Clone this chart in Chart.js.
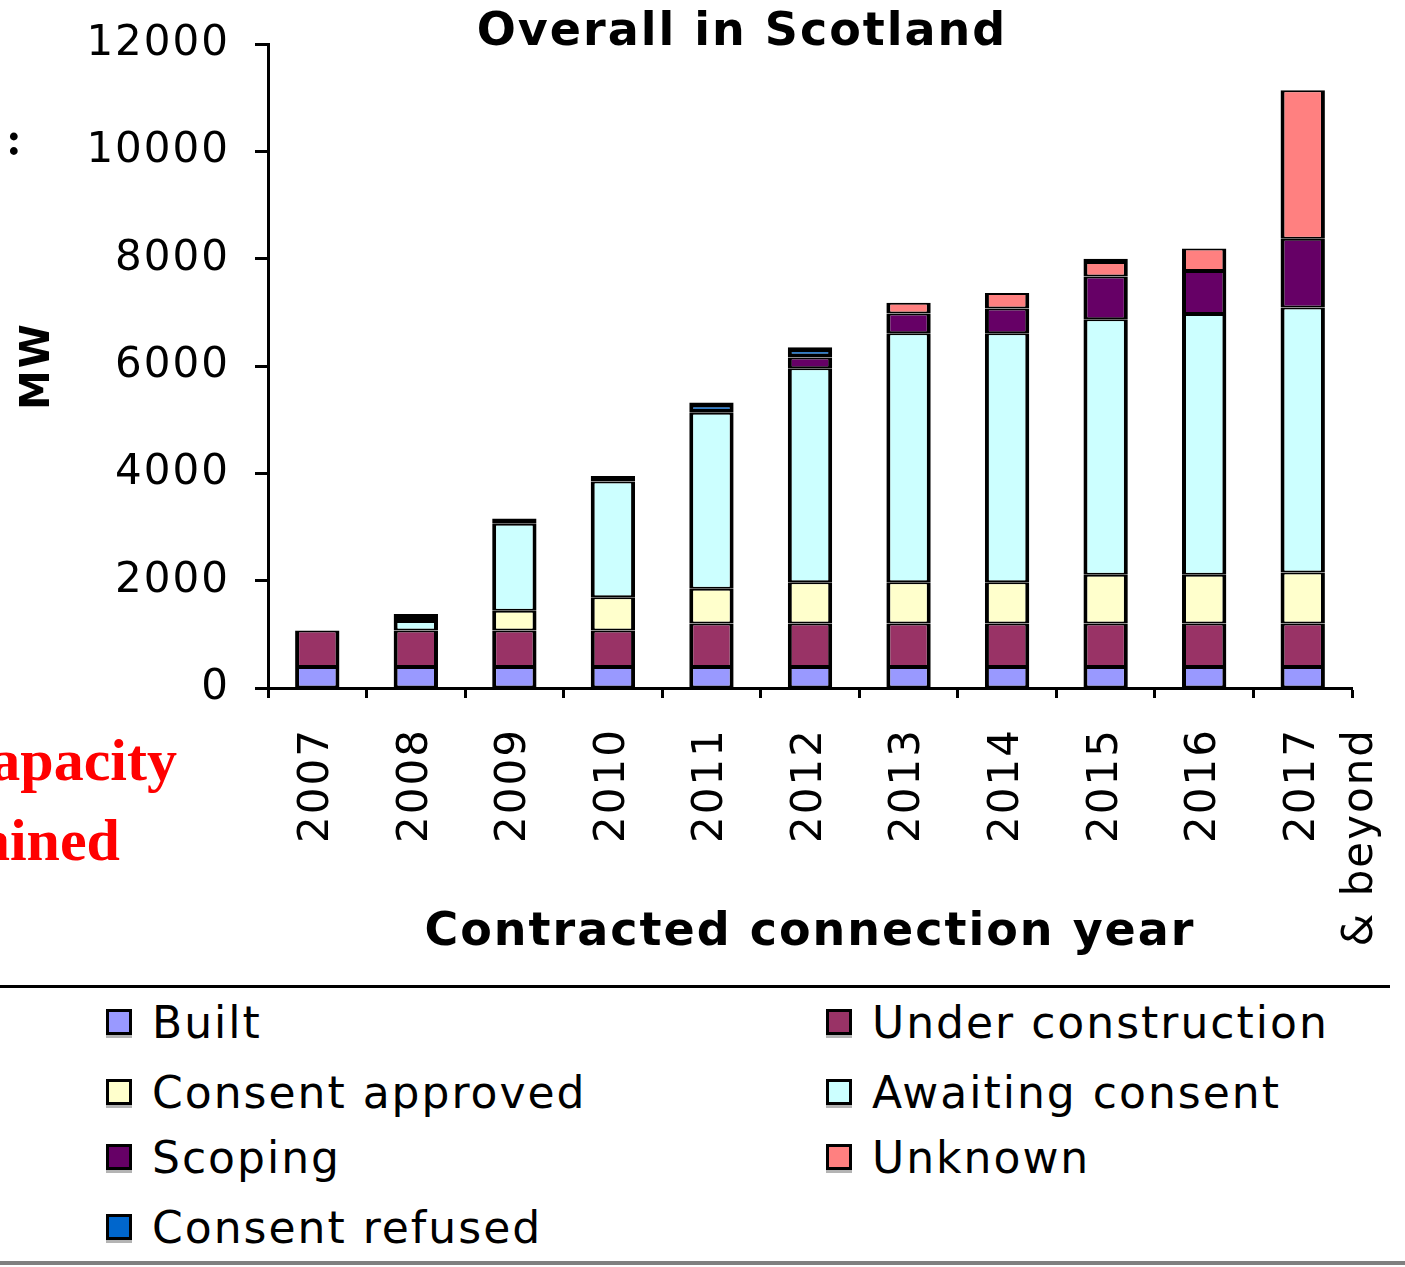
<!DOCTYPE html>
<html>
<head>
<meta charset="utf-8">
<script src="https://cdn.jsdelivr.net/npm/chart.js@4.4.1/dist/chart.umd.min.js"></script>
<style>
  html, body { margin: 0; padding: 0; background: #fff; }
  body { width: 1405px; height: 1267px; position: relative; overflow: hidden; font-family: 'DejaVu Sans', sans-serif; }
  #wrap { position: absolute; left: 0; top: 0; width: 1405px; height: 980px; }
  .red { position: absolute; white-space: nowrap; text-align: right; color: #ff0000;
         font: bold 60px 'Liberation Serif', serif; line-height: 60px; }
  .rule { position: absolute; left: 0; }
  .item { position: absolute; height: 50px; display: flex; align-items: center; white-space: nowrap;
          font-size: 44px; letter-spacing: 2px; color: #000; }
  .box { width: 26px; height: 26px; border: 3px solid #000; box-sizing: border-box; box-shadow: 0 3px 0 #b4b4b4; margin-right: 20px; }
</style>
</head>
<body>
<div id="wrap"><canvas id="myChart"></canvas></div>

<!-- bits of the slide text that are cut off on the left -->
<div style="position:absolute;left:6px;top:111px;font:bold 48px 'Liberation Serif',serif;">:</div>
<div class="red" style="top:730px;right:1228px">apacity</div>
<div class="red" style="top:810px;right:1285px">ained</div>

<div class="rule" style="top:985px;width:1390px;height:3px;background:#000"></div>
<div class="rule" style="top:1261px;width:1405px;height:4px;background:#808080"></div>
<div id="legend"></div>

<script>
// Danh mục năm (trục X)
var years = ['2007', '2008', '2009', '2010', '2011', '2012', '2013', '2014', '2015', '2016', ['2017', '& beyond']];

// Giá trị MW cho từng trạng thái
var built             = [390, 390, 390, 390, 390, 390, 390, 390, 390, 390, 390];
var underConstruction = [680, 680, 680, 680, 810, 810, 810, 810, 810, 810, 810];
var consentApproved   = [0, 0, 370, 620, 650, 770, 770, 770, 910, 910, 950];
var awaitingConsent   = [0, 180, 1620, 2160, 3280, 3990, 4640, 4640, 4760, 4860, 4940];
var scoping           = [0, 0, 0, 0, 0, 200, 370, 460, 800, 800, 1280];
var unknown           = [0, 0, 0, 0, 0, 0, 200, 290, 270, 420, 2770];
var consentRefused    = [0, 130, 100, 100, 190, 190, 0, 0, 60, 0, 0];

var yTicks = [0, 2000, 4000, 6000, 8000, 10000, 12000];

var seriesNames  = ['Built', 'Under construction', 'Consent approved', 'Awaiting consent', 'Scoping', 'Unknown', 'Consent refused'];
var seriesData   = [built, underConstruction, consentApproved, awaitingConsent, scoping, unknown, consentRefused];
var seriesColors = ['#9999ff', '#993366', '#ffffcc', '#ccffff', '#660066', '#ff8080', '#0066cc'];

Chart.defaults.font.family = "'DejaVu Sans', sans-serif";
Chart.defaults.color = '#000';

var datasets = seriesNames.map(function (name, i) {
    return {
        label: name,
        data: seriesData[i],
        backgroundColor: seriesColors[i],
        borderColor: '#000',
        // refused segments are so thin that the border nearly hides them, like in the picture
        borderWidth: name === 'Consent refused' ? { left: 4, right: 4, top: 5, bottom: 4 } : { left: 4, right: 4, top: 2, bottom: 2 },
        borderSkipped: false,
        barPercentage: 0.9,
        categoryPercentage: 0.5
    };
});

// chữ giãn ra một chút giống hình gốc
var spacing = {
    id: 'spacing',
    beforeUpdate: function (chart) { chart.ctx.letterSpacing = '2px'; },
    beforeDraw: function (chart) { chart.ctx.letterSpacing = '2px'; },
    afterDraw: function (chart) {
        var ctx = chart.ctx;
        ctx.save();
        ctx.font = "bold 46px 'DejaVu Sans', sans-serif";
        ctx.fillStyle = '#000';
        ctx.textAlign = 'center';
        ctx.textBaseline = 'middle';
        ctx.fillText('Overall in Scotland', 742, 33);
        ctx.restore();
    }
};

var ctx = document.getElementById('myChart').getContext('2d');
var chart = new Chart(ctx, {
    type: 'bar',
    data: { labels: years, datasets: datasets },
    options: {
        responsive: true,
        maintainAspectRatio: false,
        animation: false,
        layout: { padding: { top: 44, right: 53, left: 0, bottom: 0 } },
        scales: {
            x: {
                stacked: true,
                grid: { drawOnChartArea: false, offset: true, tickLength: 10, tickColor: '#000', tickWidth: 3 },
                border: { color: '#000', width: 3 },
                ticks: { minRotation: 90, maxRotation: 90, autoSkip: false, padding: 30,
                         font: { size: 42, lineHeight: 1.38 } },
                title: { display: true, text: 'Contracted connection year',
                         font: { size: 46, weight: 'bold' }, padding: { top: 0, bottom: 19 } },
                afterFit: function (s) { s.height = 292; s.paddingLeft = 0; s.paddingRight = 0; }
            },
            y: {
                stacked: true,
                min: 0,
                max: 12000,
                afterBuildTicks: function (s) { s.ticks = yTicks.map(function (v) { return { value: v }; }); },
                grid: { drawOnChartArea: false, tickLength: 13, tickColor: '#000', tickWidth: 3 },
                border: { color: '#000', width: 3 },
                ticks: { padding: 25, font: { size: 42 }, callback: function (v) { return String(v); } },
                title: { display: true, text: 'MW', font: { size: 40, weight: 'bold' }, padding: { top: 15, bottom: 0 } },
                afterFit: function (s) { s.width = 268; s.paddingTop = 0; s.paddingBottom = 0; }
            }
        },
        plugins: {
            legend: { display: false },
            tooltip: { enabled: false }
        }
    },
    plugins: [spacing]
});

// Chú thích 2 cột bên dưới
var legendCols = [106, 826];
var legendRows = [1022, 1092, 1157, 1227];
var legendDiv = document.getElementById('legend');
seriesNames.forEach(function (name, i) {
    var item = document.createElement('div');
    item.className = 'item';
    item.style.left = legendCols[i % 2] + 'px';
    item.style.top = (legendRows[Math.floor(i / 2)] - 25) + 'px';
    var box = document.createElement('span');
    box.className = 'box';
    box.style.background = seriesColors[i];
    item.appendChild(box);
    item.appendChild(document.createTextNode(name));
    legendDiv.appendChild(item);
});
</script>
</body>
</html>
